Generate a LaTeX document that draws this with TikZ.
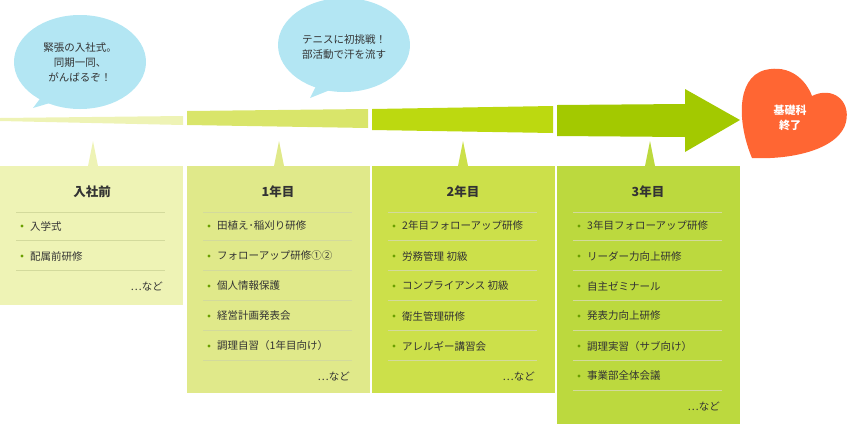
\documentclass[tikz,border=0pt]{standalone}
\usepackage{fontspec}
\setmainfont{Noto Sans CJK JP}
\newfontfamily\bfj{Noto Sans CJK JP Bold}
\definecolor{c1}{HTML}{EEF3B5}
\definecolor{c2}{HTML}{E0E98A}
\definecolor{c3}{HTML}{CCE04A}
\definecolor{c4}{HTML}{BCD93E}
\definecolor{a1}{HTML}{EEF3B5}
\definecolor{a2}{HTML}{D9E56A}
\definecolor{a3}{HTML}{BCD910}
\definecolor{a4}{HTML}{A3C900}
\definecolor{sep}{HTML}{B5C25A}
\definecolor{dot}{HTML}{6AA000}
\definecolor{bub}{HTML}{B3E6F3}
\definecolor{hrt}{HTML}{FF6633}
\definecolor{txt}{HTML}{333333}
\tikzset{
  itm/.style={anchor=west,font=\fontsize{10.5}{12}\selectfont,text=txt,inner sep=0pt},
  ttl/.style={font=\bfseries\fontsize{12.5}{14}\selectfont,text=txt},
  bubtxt/.style={align=center,font=\fontsize{10.5}{15}\selectfont,text=txt},
}
\newcommand{\itemsof}[3]{% left x, first y, list
  \foreach \t [count=\i] in {#3}{
    \pgfmathsetmacro{\yy}{#2+30*(\i-1)}
    \fill[dot] (#1+22,\yy) circle (1.6pt);
    \node[itm] at (#1+30,\yy) {\t};
    \draw[sep!60,line width=0.8pt] (#1+16,\yy+14) -- (#1+165,\yy+14);
  }}
\begin{document}
\begin{tikzpicture}[x=1pt,y=-1pt]
\useasboundingbox (0,0) rectangle (847,424);
% arrow
\fill[a1] (0,118) -- (183,116) -- (183,125) -- (0,121) -- cycle;
\fill[a2] (187,111) -- (368,109) -- (368,128) -- (187,125) -- cycle;
\fill[a3] (372,109) -- (553,106) -- (553,133) -- (372,130) -- cycle;
\fill[a4] (557,105) -- (685,104) -- (685,89) -- (740,120) -- (685,152) -- (685,137) -- (557,136) -- cycle;
% bubbles
\fill[bub] (33,108) -- (45,92) -- (60,100) -- cycle;
\fill[bub] (80,62) ellipse (66 and 47);
\node[bubtxt] (b1) at (80,62) {緊張の入社式。\\同期一同、\\がんばるぞ！};
\fill[bub] (310,98) -- (318,82) -- (335,88) -- cycle;
\fill[bub] (344,45) ellipse (66 and 47);
\node[bubtxt] (b2) at (344,47) {テニスに初挑戦！\\部活動で汗を流す};
% heart
\fill[hrt] (752,158) .. controls (738,125) and (735,78) .. (765,70)
  .. controls (790,64) and (806,80) .. (812,96)
  .. controls (832,86) and (851,100) .. (846,122)
  .. controls (840,148) and (795,160) .. (752,158) -- cycle;
\node[align=center,text=white,font=\bfseries\fontsize{11}{15}\selectfont] (h) at (790,118) {基礎科\\終了};
% boxes
\foreach \x/\h/\c/\px in {0/305/c1/93, 187/393/c2/279, 372/393/c3/463, 557/424/c4/650}{
  \fill[\c] (\x,166) rectangle (\x+183,\h);
  \fill[\c] (\px-5,166) -- (\px,141) -- (\px+5,166) -- cycle;
}
\node[ttl] (t0) at (92,192) {入社前};
\node[ttl] (t1) at (278,192) {1年目};
\node[ttl] (t2) at (463,192) {2年目};
\node[ttl] (t3) at (648,192) {3年目};
\foreach \x in {0,187,372,557}{\draw[sep!60,line width=0.8pt] (\x+16,212) -- (\x+165,212);}
\itemsof{0}{226}{入学式,配属前研修}
\itemsof{187}{226}{田植え･稲刈り研修,フォローアップ研修①②,個人情報保護,経営計画発表会,調理自習（1年目向け）}
\itemsof{372}{226}{2年目フォローアップ研修,労務管理 初級,コンプライアンス 初級,衛生管理研修,アレルギー講習会}
\itemsof{557}{226}{3年目フォローアップ研修,リーダー力向上研修,自主ゼミナール,発表力向上研修,調理実習（サブ向け）,事業部全体会議}
\node[itm,anchor=east] (n0) at (163,286) {…など};
\node[itm,anchor=east] (n1) at (350,376) {…など};
\node[itm,anchor=east] (n2) at (535,376) {…など};
\node[itm,anchor=east] (n3) at (720,406) {…など};
\end{tikzpicture}
\end{document}
